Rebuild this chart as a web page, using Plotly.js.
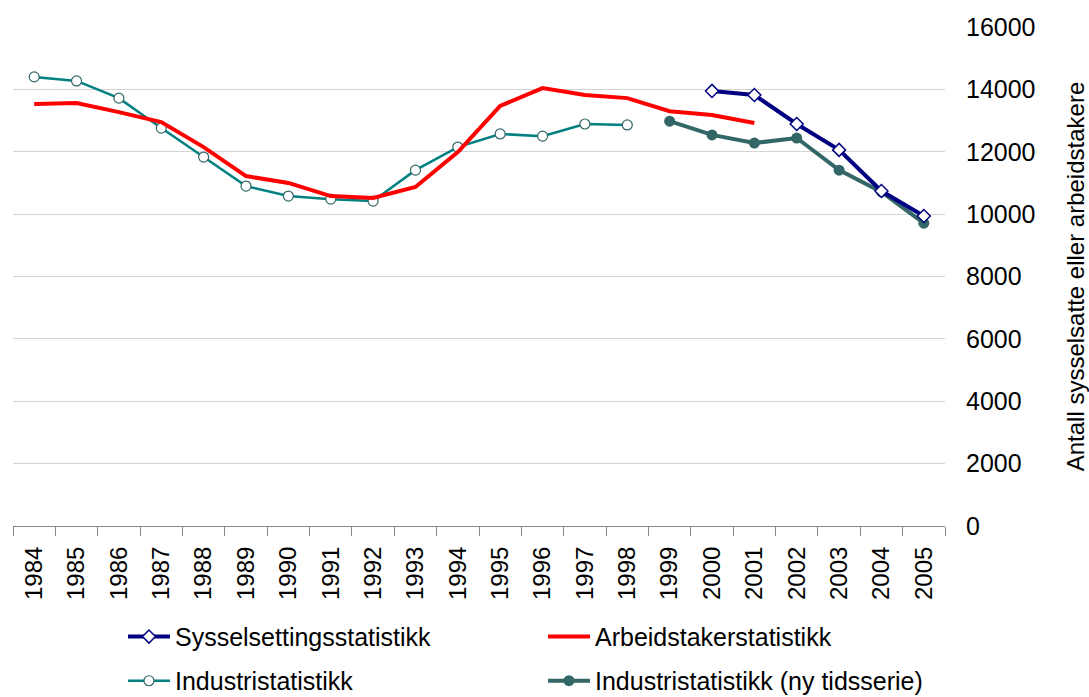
<!DOCTYPE html>
<html><head><meta charset="utf-8">
<script src="https://cdn.plot.ly/plotly-3.0.1.min.js"></script>
<style>html,body{margin:0;padding:0;background:#fff}#chart{width:1089px;height:697px}</style>
</head><body><div id="chart"></div>
<script>
const years = ['1984','1985','1986','1987','1988','1989','1990','1991','1992','1993','1994','1995','1996','1997','1998','1999','2000','2001','2002','2003','2004','2005'];
const sysselYears = ['2000','2001','2002','2003','2004','2005'];
const sysselValues = [13950,13820,12890,12060,10740,9940];
const arbeidYears = ['1984','1985','1986','1987','1988','1989','1990','1991','1992','1993','1994','1995','1996','1997','1998','1999','2000','2001'];
const arbeidValues = [13530,13560,13270,12950,12150,11220,11000,10580,10520,10870,11990,13470,14040,13820,13720,13300,13180,12920];
const industriYears = ['1984','1985','1986','1987','1988','1989','1990','1991','1992','1993','1994','1995','1996','1997','1998'];
const industriValues = [14400,14270,13720,12760,11830,10900,10580,10480,10420,11410,12150,12570,12500,12890,12860];
const nyYears = ['1999','2000','2001','2002','2003','2004','2005'];
const nyValues = [12980,12540,12280,12440,11410,10710,9710];
const yTicks = [0,2000,4000,6000,8000,10000,12000,14000,16000];

const font = {family:'Liberation Sans, Arial, sans-serif', size:24, color:'#000'};
const yFont = {family:'Liberation Sans, Arial, sans-serif', size:25, color:'#000'};
const legFont = {family:'Liberation Sans, Arial, sans-serif', size:25, color:'#000'};
const traces = [
  {x:industriYears, y:industriValues, name:'Industristatistikk', mode:'lines+markers', legend:'legend2',
   line:{color:'#008080', width:2.5}, marker:{symbol:'circle', size:10, color:'#fff', line:{color:'#336666', width:1.2}}},
  {x:arbeidYears, y:arbeidValues, name:'Arbeidstakerstatistikk', mode:'lines', legend:'legend',
   line:{color:'#FF0000', width:4}},
  {x:nyYears, y:nyValues, name:'Industristatistikk (ny tidsserie)', mode:'lines+markers', legend:'legend2',
   line:{color:'#336666', width:4}, marker:{symbol:'circle', size:11, color:'#336666'}},
  {x:sysselYears, y:sysselValues, name:'Sysselsettingsstatistikk', mode:'lines+markers', legend:'legend',
   line:{color:'#000080', width:4}, marker:{symbol:'diamond', size:10, color:'#fff', line:{color:'#000080', width:1.5}}}
];
const layout = {
  width:1089, height:697,
  margin:{l:13, r:144, t:27, b:171, autoexpand:false},
  paper_bgcolor:'#fff', plot_bgcolor:'#fff',
  font:font,
  showlegend:true,
  xaxis:{type:'category', categoryorder:'array', categoryarray:years, tickvals:years,
    tickangle:-90, tickson:'boundaries', ticks:'outside', ticklen:9, tickcolor:'#888', tickwidth:1,
    ticklabelstandoff:10, automargin:false,
    showline:true, linecolor:'#888', linewidth:1, showgrid:false, tickfont:font, range:[-0.5,21.5], fixedrange:true},
  yaxis:{side:'right', range:[0,16000], tickvals:yTicks, ticktext:yTicks.map(String), automargin:false,
    showgrid:true, gridcolor:'#d4d4d4', gridwidth:1, zeroline:false, showline:false, ticks:'',
    ticklabelstandoff:20,
    tickfont:yFont, title:{text:'Antall sysselsatte eller arbeidstakere', font:font, standoff:34}},
  legend:{orientation:'h', x:0.118, xanchor:'left', y:-0.176, yanchor:'top', entrywidth:363, entrywidthmode:'pixels',
    itemwidth:42, font:legFont, traceorder:'reversed', bgcolor:'rgba(0,0,0,0)'},
  legend2:{orientation:'h', x:0.118, xanchor:'left', y:-0.2645, yanchor:'top', entrywidth:363, entrywidthmode:'pixels',
    itemwidth:42, font:legFont, traceorder:'normal', bgcolor:'rgba(0,0,0,0)'}
};
Plotly.newPlot('chart', traces, layout, {displayModeBar:false, staticPlot:true});
</script></body></html>
